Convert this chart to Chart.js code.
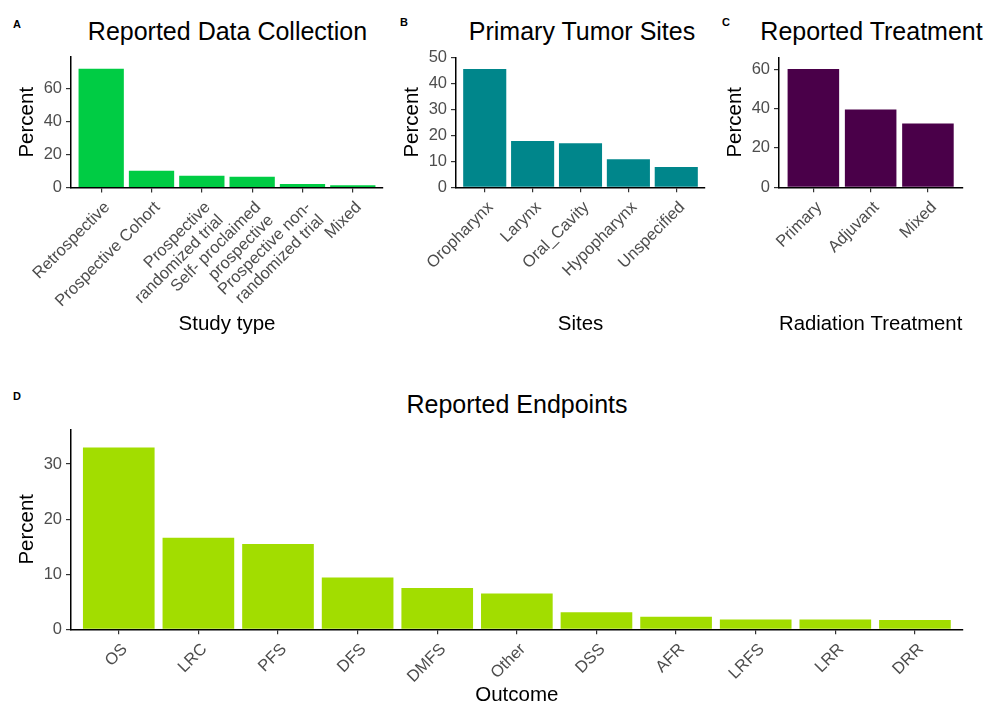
<!DOCTYPE html>
<html>
<head>
<meta charset="utf-8">
<script src="https://cdn.jsdelivr.net/npm/chart.js@4.4.1/dist/chart.umd.min.js"></script>
<style>
  body { margin: 0; background: #fff; width: 987px; height: 706px; overflow: hidden; position: relative;
         font-family: "Liberation Sans", Arial, sans-serif; }
  .box { position: absolute; }
  .title { position: absolute; font-size: 25px; line-height: 25px; color: #000; white-space: nowrap; transform: translateX(-50%); }
  .tag { position: absolute; font-size: 11px; line-height: 11px; font-weight: bold; color: #000; }
</style>
</head>
<body>
<div class="tag" style="left:13px;top:18.5px">A</div>
<div class="tag" style="left:400px;top:17px">B</div>
<div class="tag" style="left:722px;top:16.5px">C</div>
<div class="tag" style="left:13px;top:390.5px">D</div>

<div class="title" style="left:227.5px;top:19px">Reported Data Collection</div>
<div class="title" style="left:582px;top:19px">Primary Tumor Sites</div>
<div class="title" style="left:871.5px;top:18.5px">Reported Treatment</div>
<div class="title" style="left:517px;top:392px">Reported Endpoints</div>

<div class="box" style="left:0;top:0;width:395px;height:335px"><canvas id="chartA"></canvas></div>
<div class="box" style="left:395px;top:0;width:320px;height:335px"><canvas id="chartB"></canvas></div>
<div class="box" style="left:715px;top:0;width:272px;height:335px"><canvas id="chartC"></canvas></div>
<div class="box" style="left:0;top:380px;width:987px;height:326px"><canvas id="chartD"></canvas></div>

<script>
// data
const studyTypes = ["Retrospective", "Prospective Cohort", ["Prospective", "randomized trial"],
                    ["Self- proclaimed", "prospective"], ["Prospective non-", "randomized trial"], "Mixed"];
const studyPercent = [72.2, 10.2, 7.2, 6.5, 2.1, 1.3];

const sites = ["Oropharynx", "Larynx", "Oral_Cavity", "Hypopharynx", "Unspecified"];
const sitePercent = [45.6, 17.9, 17.0, 10.8, 7.8];

const treatments = ["Primary", "Adjuvant", "Mixed"];
const treatmentPercent = [60.0, 39.5, 32.4];

const outcomes = ["OS", "LRC", "PFS", "DFS", "DMFS", "Other", "DSS", "AFR", "LRFS", "LRR", "DRR"];
const outcomePercent = [33.0, 16.6, 15.5, 9.4, 7.5, 6.5, 3.1, 2.3, 1.8, 1.8, 1.7];

const ticksA = [0, 20, 40, 60];
const ticksB = [0, 10, 20, 30, 40, 50];
const ticksC = [0, 20, 40, 60];
const ticksD = [0, 10, 20, 30];

Chart.defaults.font.family = '"Liberation Sans", Arial, sans-serif';

function makeChart(id, labels, values, color, yTicks, o) {
    const maxY = Math.max(...values) * 1.1;
    return new Chart(document.getElementById(id), {
        type: "bar",
        data: {
            datasets: [{
                data: values.map((v, i) => ({ x: i, y: v })),
                backgroundColor: color,
                borderWidth: 0,
                barPercentage: 0.9,
                categoryPercentage: 1
            }]
        },
        options: {
            responsive: true,
            maintainAspectRatio: false,
            animation: false,
            layout: { padding: { top: o.top, right: o.right, left: 0, bottom: 0 } },
            plugins: { legend: { display: false }, tooltip: { enabled: false } },
            scales: {
                x: {
                    type: "linear",
                    offset: false,
                    min: -0.6,
                    max: labels.length - 0.4,
                    afterBuildTicks: s => { s.ticks = labels.map((_, i) => ({ value: i })); },
                    afterFit: s => { s.height = o.xh; },
                    ticks: {
                        autoSkip: false, minRotation: 45, maxRotation: 45, padding: 6, labelOffset: 6,
                        color: "#4d4d4d", font: { size: 16.5, lineHeight: 1.1 },
                        callback: v => labels[v]
                    },
                    grid: { display: true, offset: false, drawOnChartArea: false, tickLength: 5, color: "#333", lineWidth: 1.2 },
                    border: { display: true, color: "#000", width: 1.5 },
                    title: { display: true, text: o.xTitle, color: "#000", font: { size: 20.5, lineHeight: 1 }, padding: 0 }
                },
                y: {
                    min: 0,
                    max: maxY,
                    afterBuildTicks: s => { s.ticks = yTicks.map(v => ({ value: v })); },
                    afterFit: s => { s.width = o.yw; },
                    ticks: { padding: 4, color: "#4d4d4d", font: { size: 16.5 } },
                    grid: { display: true, drawOnChartArea: false, tickLength: 5, color: "#333", lineWidth: 1.2 },
                    border: { display: true, color: "#000", width: 1.5 },
                    title: { display: true, text: "Percent", color: "#000", font: { size: 20.5, lineHeight: 1 },
                             padding: { top: o.yt, bottom: 0 } }
                }
            }
        }
    });
}

makeChart("chartA", studyTypes, studyPercent, "#00cc44", ticksA,
          { top: 57, right: 12, xh: 147.5, yw: 71, yt: 17, xTitle: "Study type" });
makeChart("chartB", sites, sitePercent, "#00868b", ticksB,
          { top: 57.3, right: 10, xh: 147.7, yw: 61, yt: 7, xTitle: "Sites" });
makeChart("chartC", treatments, treatmentPercent, "#4a0049", ticksC,
          { top: 57.3, right: 24.7, xh: 147.7, yw: 64, yt: 10, xTitle: "Radiation Treatment" });
makeChart("chartD", outcomes, outcomePercent, "#a2dd00", ticksD,
          { top: 49.3, right: 24.3, xh: 76.7, yw: 71, yt: 17, xTitle: "Outcome" });
</script>
</body>
</html>
